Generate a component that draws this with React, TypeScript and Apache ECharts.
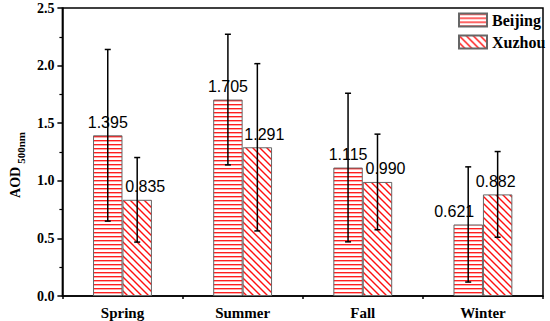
import React, { useEffect, useRef } from "react";
import * as echarts from "echarts";

const categories = ["Spring", "Summer", "Fall", "Winter"];
const seriesNames = ["Beijing", "Xuzhou"];
const beijingMean = [1.395, 1.705, 1.115, 0.621];
const xuzhouMean = [0.835, 1.291, 0.99, 0.882];
const beijingStd = [0.745, 0.567, 0.645, 0.5];
const xuzhouStd = [0.367, 0.726, 0.415, 0.372];
const yMin = 0;
const yMax = 2.5;
const yStep = 0.5;

// label horizontal shifts (layout only)
const beijingLabelDx = [0, 0, 0, -14];
const xuzhouLabelDx = [8, 7, 8, -2];

const BAR_FRAC = 0.245;

function hPattern(): HTMLCanvasElement {
  const c = document.createElement("canvas");
  c.width = 8;
  c.height = 4;
  const ctx = c.getContext("2d")!;
  ctx.fillStyle = "#ffffff";
  ctx.fillRect(0, 0, 8, 4);
  ctx.fillStyle = "#ff1f1f";
  ctx.fillRect(0, 0, 8, 1);
  ctx.fillStyle = "#ffa8a8";
  ctx.fillRect(0, 1, 8, 1);
  return c;
}

function dPattern(): HTMLCanvasElement {
  const s = 7;
  const c = document.createElement("canvas");
  c.width = s;
  c.height = s;
  const ctx = c.getContext("2d")!;
  ctx.fillStyle = "#ffffff";
  ctx.fillRect(0, 0, s, s);
  ctx.strokeStyle = "#ff1010";
  ctx.lineWidth = 1.4;
  ctx.beginPath();
  ctx.moveTo(-1, -1);
  ctx.lineTo(s + 1, s + 1);
  ctx.moveTo(s - 1, -1);
  ctx.lineTo(s + 1, 1);
  ctx.moveTo(-1, s - 1);
  ctx.lineTo(1, s + 1);
  ctx.stroke();
  return c;
}

function errSeries(name: string, means: number[], stds: number[], side: number) {
  return {
    type: "custom",
    name,
    z: 10,
    silent: true,
    xAxisIndex: 0,
    yAxisIndex: 0,
    data: means.map((m, i) => [i, m - stds[i], m + stds[i]]),
    encode: { x: 0, y: [1, 2] },
    renderItem: (params: any, api: any) => {
      const i = api.value(0);
      const lo = api.coord([i, api.value(1)]);
      const hi = api.coord([i, api.value(2)]);
      const bw = api.size([1, 0])[0] * BAR_FRAC;
      const x = lo[0] + (side * bw) / 2;
      const cap = 3;
      const st = { stroke: "#000", lineWidth: 1.5 };
      return {
        type: "group",
        children: [
          { type: "line", shape: { x1: x, y1: hi[1], x2: x, y2: lo[1] }, style: st },
          { type: "line", shape: { x1: x - cap, y1: hi[1], x2: x + cap, y2: hi[1] }, style: st },
          { type: "line", shape: { x1: x - cap, y1: lo[1], x2: x + cap, y2: lo[1] }, style: st },
        ],
      };
    },
  };
}

export default function App() {
  const ref = useRef<HTMLDivElement>(null);
  useEffect(() => {
    if (!ref.current) return;
    const chart = echarts.init(ref.current, undefined, { renderer: "svg" });
    const serif = "Liberation Serif";
    const sans = "Liberation Sans";
    const labelBase = {
      show: true,
      position: "top",
      distance: 5,
      fontFamily: sans,
      fontSize: 16,
      color: "#000",
    };
    const mkData = (vals: number[], dx: number[]) =>
      vals.map((v, i) => ({
        value: v,
        label: { offset: [dx[i], 0] },
      }));
    chart.setOption({
      animation: false,
      backgroundColor: "#fff",
      textStyle: { fontFamily: serif },
      grid: {
        left: 61,
        right: 7,
        top: 8,
        bottom: 25,
        show: true,
        borderColor: "#000",
        borderWidth: 1.5,
        backgroundColor: "transparent",
      },
      legend: {
        data: seriesNames,
        orient: "vertical",
        left: 458,
        top: 12,
        padding: 0,
        itemWidth: 28,
        itemHeight: 13,
        itemGap: 6,
        icon: "rect",
        textStyle: {
          fontFamily: serif,
          fontWeight: "bold",
          fontSize: 16,
          color: "#000",
        },
      },
      xAxis: [
        {
          type: "category",
          data: categories,
          axisLine: { lineStyle: { color: "#000", width: 1.5 } },
          axisTick: { alignWithLabel: true, length: 6, lineStyle: { color: "#000", width: 1.5 } },
          axisLabel: {
            margin: 9,
            fontFamily: serif,
            fontWeight: "bold",
            fontSize: 15,
            color: "#000",
          },
        },
        {
          type: "category",
          data: categories,
          position: "bottom",
          axisLine: { show: false },
          axisTick: { show: true, length: 3, lineStyle: { color: "#000", width: 1.5 } },
          axisLabel: { show: false },
          splitLine: { show: false },
        },
      ],
      yAxis: {
        type: "value",
        min: yMin,
        max: yMax,
        interval: yStep,
        name: "{a|AOD}{b|500nm}",
        nameLocation: "middle",
        nameGap: 28,
        nameRotate: 90,
        nameTextStyle: {
          padding: [0, 26, 0, 0],
          rich: {
            a: {
              fontFamily: serif,
              fontWeight: "bold",
              fontSize: 14,
              lineHeight: 15,
              verticalAlign: "top",
              color: "#000",
            },
            b: {
              fontFamily: serif,
              fontWeight: "bold",
              fontSize: 11,
              lineHeight: 12,
              padding: [7, 0, 0, 3],
              verticalAlign: "top",
              color: "#000",
            },
          },
        },
        axisLine: { show: true, lineStyle: { color: "#000", width: 1.5 } },
        axisTick: { show: true, length: 5, lineStyle: { color: "#000", width: 1.5 } },
        minorTick: { show: true, splitNumber: 2, length: 3, lineStyle: { color: "#000", width: 1.2 } },
        splitLine: { show: false },
        axisLabel: {
          margin: 8,
          fontFamily: serif,
          fontWeight: "bold",
          fontSize: 14,
          color: "#000",
          formatter: (v: number) => v.toFixed(1),
        },
      },
      series: [
        {
          type: "bar",
          name: seriesNames[0],
          xAxisIndex: 0,
          barWidth: BAR_FRAC * 100 + "%",
          barGap: "0%",
          data: mkData(beijingMean, beijingLabelDx),
          itemStyle: {
            color: { image: hPattern(), repeat: "repeat" },
            borderColor: "#666",
            borderWidth: 1,
          },
          label: { ...labelBase, formatter: (p: any) => Number(p.value).toFixed(3) },
        },
        {
          type: "bar",
          name: seriesNames[1],
          xAxisIndex: 0,
          barWidth: BAR_FRAC * 100 + "%",
          barGap: "0%",
          data: mkData(xuzhouMean, xuzhouLabelDx),
          itemStyle: {
            color: { image: dPattern(), repeat: "repeat" },
            borderColor: "#666",
            borderWidth: 1,
          },
          label: { ...labelBase, formatter: (p: any) => Number(p.value).toFixed(3) },
        },
        errSeries("errB", beijingMean, beijingStd, -1),
        errSeries("errX", xuzhouMean, xuzhouStd, 1),
      ],
    });
    return () => chart.dispose();
  }, []);
  return (
    <div
      ref={ref}
      style={{ position: "absolute", left: 0, top: 0, width: 550, height: 321 }}
    />
  );
}
